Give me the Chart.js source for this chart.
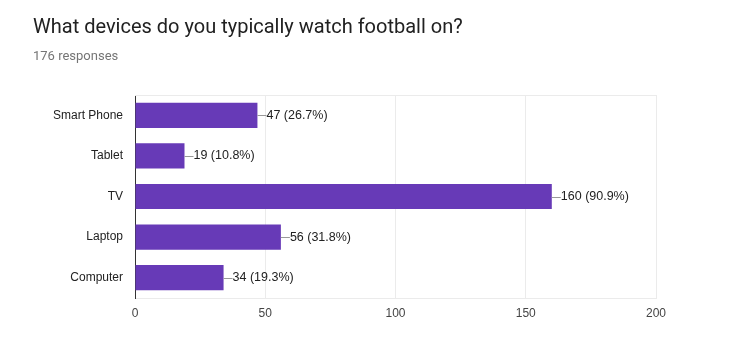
<!DOCTYPE html>
<html>
<head>
<meta charset="utf-8">
<title>Devices</title>
<script src="https://cdn.jsdelivr.net/npm/chart.js@4.4.0/dist/chart.umd.min.js"></script>
<style>
  body { margin: 0; background: #fff; }
  #wrap { position: relative; width: 748px; height: 338px; }
  #titulo { position: absolute; left: 33px; top: 14px; font-family: Roboto, sans-serif; font-size: 20px; color: #212121; white-space: nowrap; }
  #respuestas { position: absolute; left: 33px; top: 48px; font-family: Roboto, sans-serif; font-size: 13px; color: #757575; }
</style>
</head>
<body>
<div id="wrap">
  <div id="titulo">What devices do you typically watch football on?</div>
  <div id="respuestas">176 responses</div>
  <canvas id="bar-chart" width="748" height="338"></canvas>
</div>
<script>
var dispositivos = ["Smart Phone", "Tablet", "TV", "Laptop", "Computer"];
var respuestas = [47, 19, 160, 56, 34];
var porcentajes = ["26.7%", "10.8%", "90.9%", "31.8%", "19.3%"];
var ticksX = [0, 50, 100, 150, 200];

// etiquetas con linea guia al final de cada barra
var etiquetas = {
  id: 'etiquetas',
  afterDatasetsDraw: function(chart) {
    var ctx = chart.ctx;
    var meta = chart.getDatasetMeta(0);
    ctx.save();
    ctx.font = '12.5px "Liberation Sans", Arial, sans-serif';
    ctx.textBaseline = 'middle';
    meta.data.forEach(function(bar, i) {
      ctx.strokeStyle = '#999999';
      ctx.lineWidth = 1;
      ctx.beginPath();
      ctx.moveTo(bar.x, Math.round(bar.y) + 0.5);
      ctx.lineTo(bar.x + 9, Math.round(bar.y) + 0.5);
      ctx.stroke();
      ctx.fillStyle = '#222222';
      ctx.fillText(respuestas[i] + ' (' + porcentajes[i] + ')', bar.x + 9, bar.y);
    });
    ctx.restore();
  }
};

var marco = {
  id: 'marco',
  beforeDatasetsDraw: function(chart) {
    var a = chart.chartArea, ctx = chart.ctx;
    ctx.save();
    ctx.strokeStyle = '#ebebeb';
    ctx.lineWidth = 1;
    ctx.beginPath();
    ctx.moveTo(a.left, Math.round(a.top) + 0.5);
    ctx.lineTo(a.right, Math.round(a.top) + 0.5);
    ctx.stroke();
    ctx.restore();
  }
};

var ctx = document.getElementById('bar-chart').getContext('2d');
new Chart(ctx, {
  type: 'bar',
  data: {
    labels: dispositivos,
    datasets: [{
      label: "Respuestas",
      backgroundColor: "#673ab7",
      data: respuestas,
      categoryPercentage: 0.62,
      barPercentage: 1
    }]
  },
  plugins: [marco, etiquetas],
  options: {
    indexAxis: 'y',
    responsive: false,
    animation: false,
    layout: { padding: { top: 95, right: 92, left: 0, bottom: 0 } },
    plugins: { legend: { display: false }, tooltip: { enabled: false } },
    scales: {
      x: {
        min: 0, max: 200,
        afterBuildTicks: function(scale) {
          scale.ticks = ticksX.map(function(v) { return { value: v }; });
        },
        afterFit: function(scale) { scale.height = 40; },
        grid: { color: '#ebebeb', drawTicks: false },
        border: { display: true, color: '#ebebeb' },
        ticks: {
          padding: 8,
          color: '#444444',
          font: { family: '"Liberation Sans", Arial, sans-serif', size: 12 }
        }
      },
      y: {
        afterFit: function(scale) { scale.width = 135; },
        grid: { display: false, drawTicks: false },
        border: { display: true, color: '#333333' },
        ticks: {
          padding: 12,
          color: '#222222',
          font: { family: '"Liberation Sans", Arial, sans-serif', size: 12 }
        }
      }
    }
  }
});
</script>
</body>
</html>
